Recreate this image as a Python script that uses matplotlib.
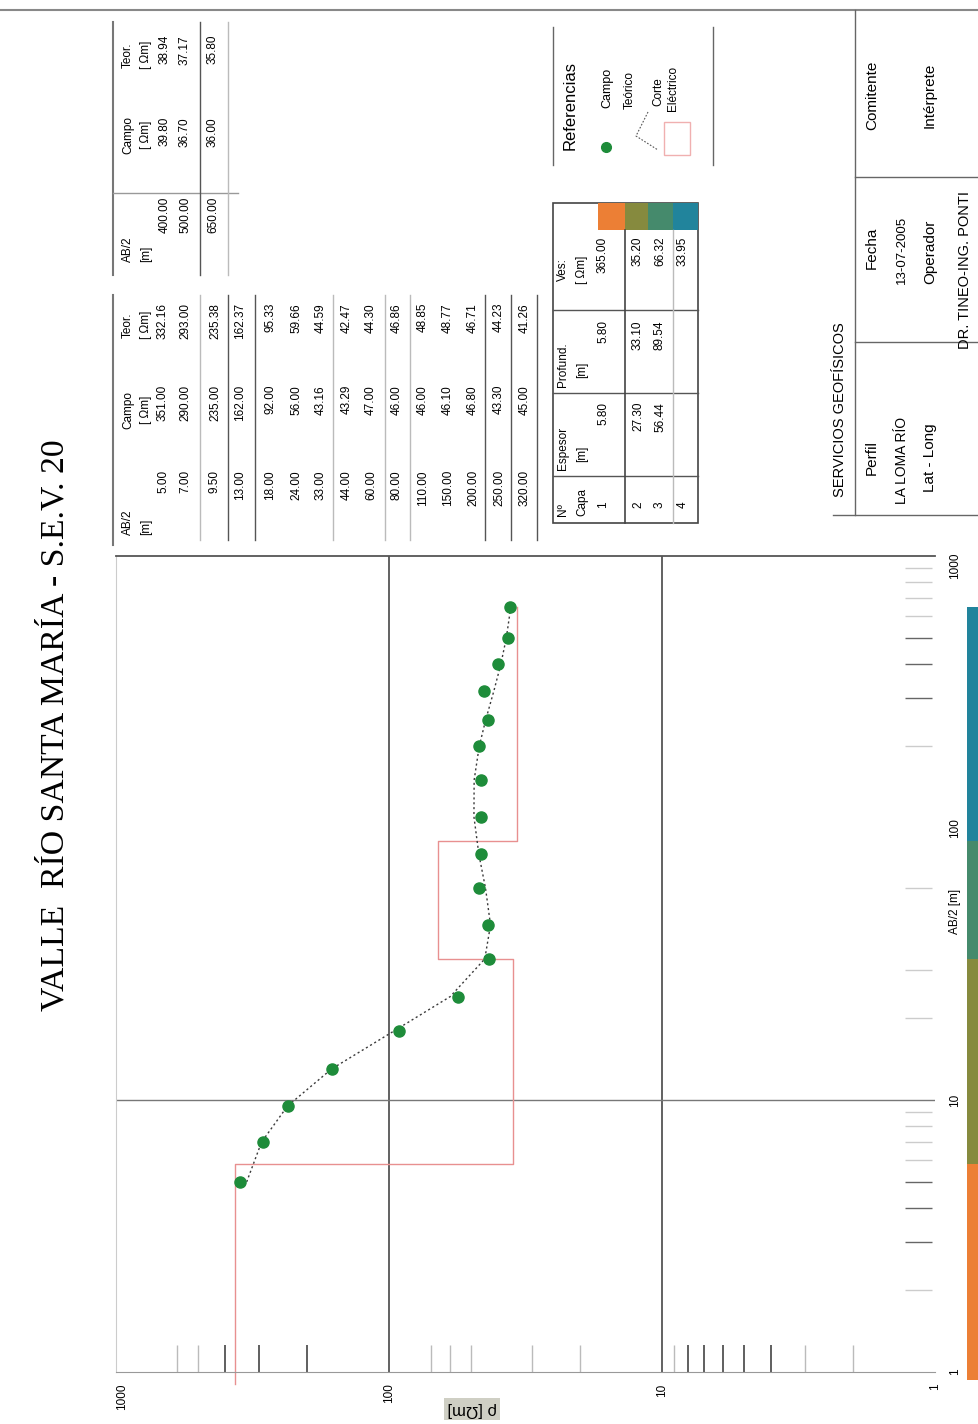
import matplotlib
matplotlib.use("Agg")
import matplotlib.pyplot as plt
from matplotlib.lines import Line2D
from matplotlib.patches import Rectangle

# sounding data (SEV 20)
ab2 = [5, 7, 9.5, 13, 18, 24, 33, 44, 60, 80, 110, 150, 200, 250, 320, 400, 500, 650]
rho_campo = [351.00, 290.00, 235.00, 162.00, 92.00, 56.00, 43.16, 43.29, 47.00, 46.00,
             46.00, 46.10, 46.80, 43.30, 45.00, 39.80, 36.70, 36.00]
rho_teor = [332.16, 293.00, 235.38, 162.37, 95.33, 59.66, 44.59, 42.47, 44.30, 46.86,
            48.85, 48.77, 46.71, 44.23, 41.26, 38.94, 37.17, 35.80]

# interpreted layers
capa = [1, 2, 3, 4]
espesor = [5.80, 27.30, 56.44]
profund = [5.80, 33.10, 89.54]
rho_capa = [365.00, 35.20, 66.32, 33.95]
capa_colors = ['#ec7f35', '#868a3e', '#458a6c', '#21849c']

W, H = 979, 1424
FONT = ['Liberation Sans Narrow', 'Liberation Sans', 'DejaVu Sans']

fig = plt.figure(figsize=(W / 100, H / 100), dpi=100)


def fx(x):
    return x / W


def fy(y):
    return 1 - y / H


# rotated text placed in pixel coordinates of the page
def txt(x, y, s, size=8.5, ha='center', va='center', rot=90, **kw):
    fig.text(fx(x), fy(y), s, rotation=rot, ha=ha, va=va, fontsize=size,
             family=kw.pop('family', FONT), **kw)


def line(x0, y0, x1, y1, color='#555555', lw=1.0):
    fig.add_artist(Line2D([fx(x0), fx(x1)], [fy(y0), fy(y1)], color=color, lw=lw))


# page frame
line(0, 10, 979, 10, '#888888', 1.5)

# title
txt(55, 725, 'VALLE  RÍO SANTA MARÍA - S.E.V. 20', size=24.3,
    family=['Liberation Serif', 'DejaVu Serif'])

# ---- main sounding plot (rho on horizontal, AB/2 on vertical) ----
ax = fig.add_axes([fx(116), fy(1372), fx(935) - fx(116), fy(556) - fy(1372)])
ax.set_xscale('log')
ax.set_yscale('log')
ax.set_xlim(1000, 1)
ax.set_ylim(1, 1000)
ax.set_xticks([])
ax.set_yticks([])
ax.minorticks_off()
ax.spines['right'].set_visible(False)
ax.spines['left'].set_color('#cccccc')
ax.spines['top'].set_color('#555555')
ax.spines['top'].set_linewidth(1.3)
ax.spines['bottom'].set_color('#999999')

ax.axvline(100, color='#555555', lw=1.3)
ax.axvline(10, color='#555555', lw=1.3)
ax.axhline(10, color='#777777', lw=1.0)

# minor ticks drawn like the original sheet
xt = ax.get_xaxis_transform()
yt = ax.get_yaxis_transform()
ax.vlines([400, 300, 200, 8, 7, 6, 5, 4], 0, 0.033, transform=xt, color='#444444', lw=1.2)
ax.vlines([600, 500, 70, 60, 50, 30, 20, 9, 3, 2], 0, 0.033, transform=xt, color='#bbbbbb', lw=1.0)
ax.hlines([500, 400, 300, 5, 4, 3], 0.963, 0.996, transform=yt, color='#666666', lw=1.0)
ax.hlines([900, 800, 700, 600, 200, 60, 30, 20, 9, 8, 7, 6, 2], 0.963, 0.996, transform=yt,
          color='#cccccc', lw=1.0)

for v, lab in zip([1000, 100, 10, 1], ['1000', '100', '10', '1']):
    ax.text(v, -0.014, lab, transform=xt, rotation=90, ha='left' if v == 1000 else 'center',
            va='top', fontsize=8.5, family=FONT)
for v, lab in zip([1, 10, 100, 1000], ['1', '10', '100', '1000']):
    ax.text(1.024, v if v < 1000 else 920, lab, transform=yt, rotation=90, ha='center',
            va='center', fontsize=8.5, family=FONT)
ax.text(1.024, 0.565, 'AB/2 [m]', transform=ax.transAxes, rotation=90, ha='center',
        va='center', fontsize=8.5, family=FONT)
# axis title printed upside down on the sheet
txt(472, 1409, 'ρ [Ωm]', size=12, rot=180,
    bbox=dict(boxstyle='square,pad=0.2', fc='#cfcfc4', ec='none'))

# electric section (layer model as step line)
sx, sy = [rho_capa[0]], [0.9]
for i, d in enumerate(profund):
    sx += [rho_capa[i], rho_capa[i + 1]]
    sy += [d, d]
sx.append(rho_capa[-1])
sy.append(ab2[-1])
ax.plot(sx, sy, color='#e89090', lw=1.0, zorder=2, clip_on=False)

ax.plot(rho_teor, ab2, color='#3a3a3a', lw=1.0, ls=(0, (1.5, 2)), zorder=3)
ax.plot(rho_campo, ab2, 'o', color='#1e8c3a', ms=8, mec='#1e8c3a', zorder=4)

# colored layer strip on the right
axs = fig.add_axes([fx(967), fy(1372), fx(979) - fx(967), fy(556) - fy(1372)])
axs.set_yscale('log')
axs.set_ylim(1, 1000)
axs.set_xlim(0, 1)
axs.axis('off')
tops = profund + [ab2[-1]]
bots = [0.935] + profund
for b, t, c in zip(bots, tops, capa_colors):
    axs.bar(0.5, t - b, bottom=b, width=1, color=c, clip_on=False)

# ---- table 1 : AB/2, Campo, Teor ----
row_x = [163, 185, 215, 240, 270, 296, 321, 347, 371, 397, 423, 448, 473, 499, 525]
line(113, 295, 113, 545, '#777777', 1.5)
for x, dark in [(200, False), (228, True), (255, True), (333, False), (385, False),
                (410, False), (485, True), (511, True), (537, True)]:
    line(x, 295, x, 540, '#555555' if dark else '#bbbbbb', 1.0)
txt(128, 535, 'AB/2', va='bottom')
txt(146, 535, '[m]', va='bottom')
txt(128, 410, 'Campo')
txt(146, 410, '[ Ωm]')
txt(128, 325, 'Teor.')
txt(146, 325, '[ Ωm]')
for x, a, c, t in zip(row_x, ab2[:15], rho_campo[:15], rho_teor[:15]):
    txt(x, 470, f'{a:.2f}', va='top')
    txt(x, 385, f'{c:.2f}', va='top')
    txt(x, 303, f'{t:.2f}', va='top')

# ---- table 2 : remaining readings ----
row_x2 = [165, 185, 213]
line(113, 22, 113, 275, '#777777', 1.5)
line(113, 193, 238, 193, '#999999', 1.0)
line(200, 22, 200, 275, '#555555', 1.0)
line(228, 22, 228, 275, '#bbbbbb', 1.0)
txt(128, 262, 'AB/2', va='bottom')
txt(146, 262, '[m]', va='bottom')
txt(128, 135, 'Campo')
txt(146, 135, '[ Ωm]')
txt(128, 55, 'Teor.')
txt(146, 55, '[ Ωm]')
for x, a, c, t in zip(row_x2, ab2[15:], rho_campo[15:], rho_teor[15:]):
    txt(x, 197, f'{a:.2f}', va='top')
    txt(x, 117, f'{c:.2f}', va='top')
    txt(x, 35, f'{t:.2f}', va='top')

# ---- layer table ----
fig.add_artist(Rectangle((fx(553), fy(523)), fx(698) - fx(553), fy(203) - fy(523),
                         fill=False, ec='#444444', lw=1.2))
for y in [476, 393, 310]:
    line(553, y, 698, y, '#555555', 1.0)
line(625, 230, 625, 523, '#444444', 1.2)
line(673, 230, 673, 523, '#bbbbbb', 1.0)
sw = [598, 625, 648, 673, 698]
for i, c in enumerate(capa_colors):
    fig.add_artist(Rectangle((fx(sw[i]), fy(230)), fx(sw[i + 1]) - fx(sw[i]), fy(203) - fy(230),
                             color=c, lw=0))
txt(563, 516, 'Nº', va='bottom')
txt(582, 516, 'Capa', va='bottom')
txt(563, 470, 'Espesor', va='bottom')
txt(582, 462, '[m]', va='bottom')
txt(563, 387, 'Profund.', va='bottom')
txt(582, 378, '[m]', va='bottom')
txt(563, 270, 'Ves:')
txt(582, 270, '[ Ωm]')
cap_x = [603, 638, 660, 683]
for i, x in enumerate(cap_x):
    txt(x, 505, str(capa[i]))
    if i < len(espesor):
        txt(x, 402, f'{espesor[i]:.2f}', va='top')
        txt(x, 320, f'{profund[i]:.2f}', va='top')
    txt(x, 237, f'{rho_capa[i]:.2f}', va='top')

# ---- legend ----
line(553, 27, 553, 165, '#666666', 1.0)
line(713, 27, 713, 165, '#666666', 1.0)
txt(570, 105, 'Referencias', size=12)
fig.add_artist(Line2D([fx(606)], [fy(147)], marker='o', color='#1e8c3a', ms=7, ls='none'))
txt(607, 88, 'Campo', size=9)
fig.add_artist(Line2D([fx(648), fx(636), fx(658)], [fy(112), fy(136), fy(150)],
                      color='#555555', lw=0.8, ls=(0, (1.5, 1.5))))
txt(630, 90, 'Teórico', size=8.5)
fig.add_artist(Rectangle((fx(664), fy(155)), fx(690) - fx(664), fy(122) - fy(155),
                         fill=False, ec='#f0b0b0', lw=1.0))
txt(658, 92, 'Corte', size=8.5)
txt(673, 88, 'Eléctrico', size=8.5)

# ---- info box ----
line(855, 10, 855, 515, '#666666', 1.0)
line(855, 177, 979, 177, '#666666', 1.0)
line(855, 342, 979, 342, '#666666', 1.0)
line(833, 515, 979, 515, '#666666', 1.0)
txt(840, 410, 'SERVICIOS GEOFÍSICOS', size=10.5)
txt(872, 95, 'Comitente', size=11)
txt(930, 95, 'Intérprete', size=11)
txt(872, 248, 'Fecha', size=11)
txt(902, 250, '13-07-2005', size=9.5)
txt(930, 252, 'Operador', size=11)
txt(965, 270, 'DR. TINEO-ING. PONTI', size=10.5)
txt(872, 458, 'Perfil', size=11)
txt(902, 460, 'LA LOMA RÍO', size=10)
txt(930, 458, 'Lat - Long', size=11)

fig.savefig('out.png', dpi=100)
